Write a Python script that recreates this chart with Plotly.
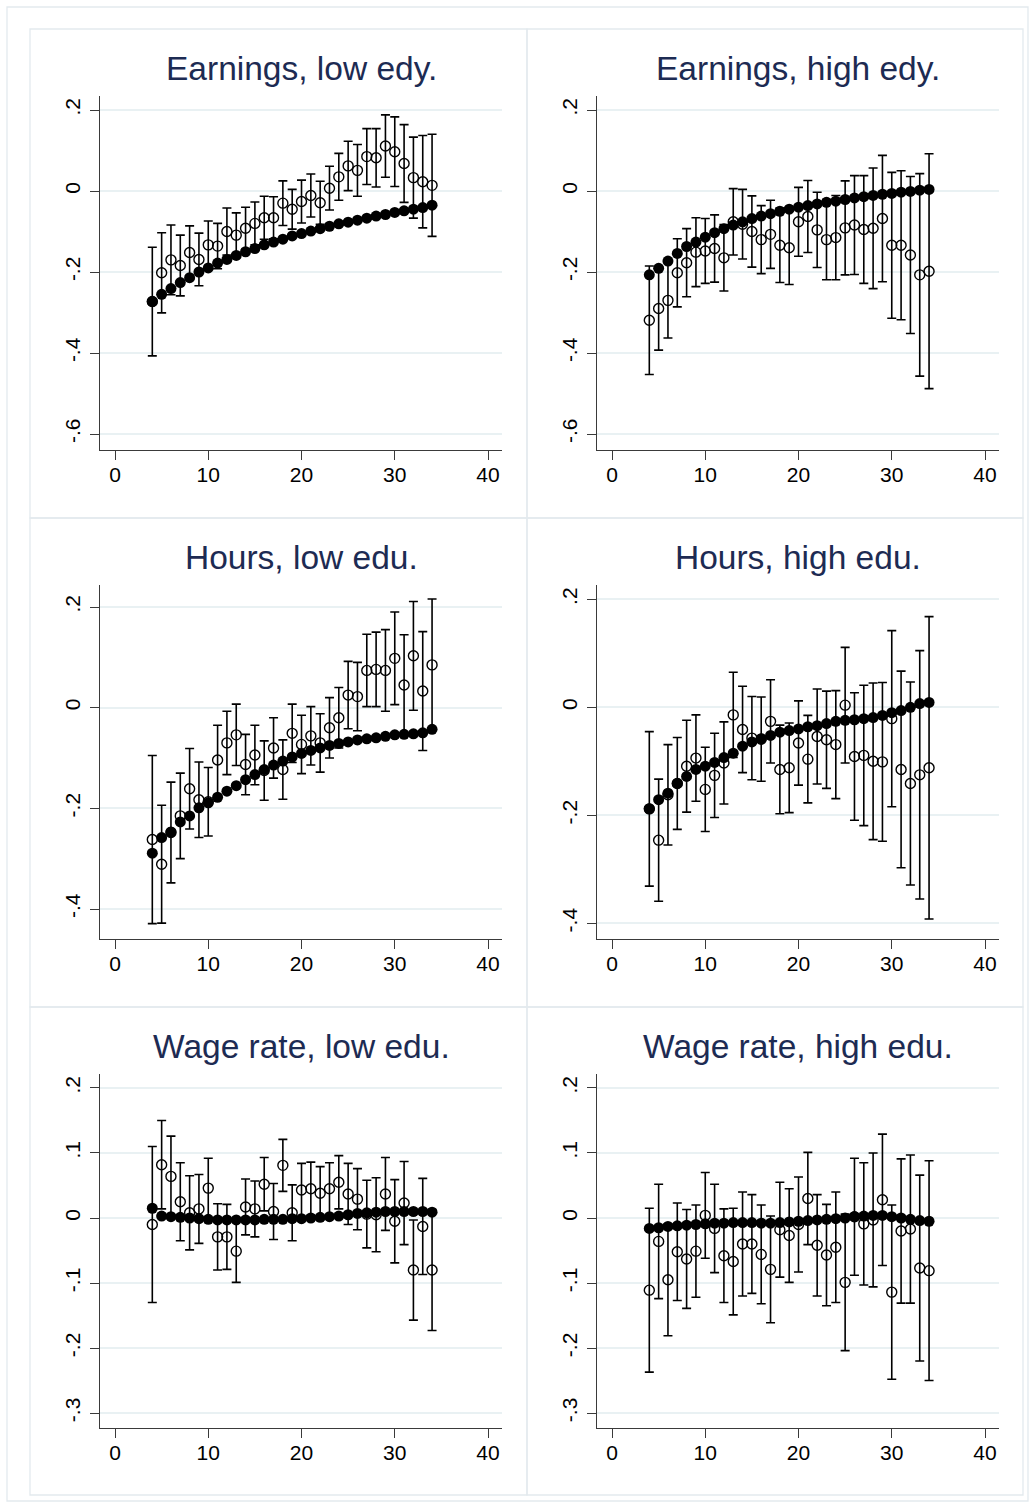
import plotly.graph_objects as go

W, H = 1035, 1508

ages = list(range(4, 35))

titles = ["Earnings, low edy.", "Earnings, high edy.",
          "Hours, low edu.", "Hours, high edu.",
          "Wage rate, low edu.", "Wage rate, high edu."]

# model (filled markers)
earn_low_model = [-0.273,-0.255,-0.241,-0.226,-0.214,-0.200,-0.190,-0.178,-0.169,-0.159,-0.150,-0.142,-0.133,-0.126,-0.119,-0.111,-0.105,-0.099,-0.093,-0.087,-0.081,-0.077,-0.072,-0.067,-0.062,-0.058,-0.053,-0.049,-0.045,-0.041,-0.035]
earn_high_model = [-0.207,-0.191,-0.173,-0.154,-0.137,-0.126,-0.114,-0.103,-0.093,-0.084,-0.076,-0.068,-0.062,-0.056,-0.050,-0.045,-0.040,-0.036,-0.032,-0.028,-0.025,-0.021,-0.017,-0.014,-0.011,-0.008,-0.006,-0.003,-0.001,0.002,0.004]
hours_low_model = [-0.289,-0.258,-0.247,-0.227,-0.215,-0.199,-0.189,-0.178,-0.166,-0.155,-0.143,-0.133,-0.123,-0.114,-0.106,-0.098,-0.091,-0.085,-0.080,-0.075,-0.071,-0.068,-0.064,-0.062,-0.060,-0.057,-0.054,-0.053,-0.052,-0.050,-0.043]
hours_high_model = [-0.188,-0.171,-0.159,-0.141,-0.128,-0.115,-0.109,-0.102,-0.093,-0.085,-0.072,-0.064,-0.058,-0.052,-0.046,-0.043,-0.040,-0.036,-0.034,-0.030,-0.026,-0.024,-0.023,-0.021,-0.019,-0.015,-0.010,-0.006,0.000,0.007,0.009]
wage_low_model = [0.015,0.003,0.002,0.001,0.000,-0.001,-0.002,-0.003,-0.003,-0.003,-0.003,-0.003,-0.002,-0.002,-0.002,-0.001,-0.001,0.000,0.001,0.002,0.003,0.005,0.007,0.008,0.009,0.010,0.010,0.010,0.010,0.010,0.009]
wage_high_model = [-0.016,-0.015,-0.013,-0.012,-0.011,-0.010,-0.009,-0.008,-0.008,-0.007,-0.007,-0.007,-0.008,-0.008,-0.007,-0.006,-0.005,-0.004,-0.003,-0.002,-0.001,0.000,0.002,0.003,0.004,0.004,0.002,0.000,-0.002,-0.004,-0.005]

# data (hollow markers) with CI half-widths
earn_low_data = [-0.273,-0.202,-0.170,-0.184,-0.152,-0.169,-0.133,-0.136,-0.100,-0.109,-0.092,-0.080,-0.066,-0.066,-0.030,-0.045,-0.026,-0.011,-0.029,0.007,0.035,0.062,0.051,0.085,0.082,0.111,0.097,0.068,0.033,0.023,0.014]
earn_low_ci = [0.134,0.099,0.086,0.075,0.066,0.065,0.059,0.056,0.058,0.055,0.052,0.053,0.053,0.052,0.055,0.049,0.053,0.053,0.053,0.054,0.058,0.061,0.064,0.069,0.072,0.077,0.086,0.096,0.100,0.114,0.126]
earn_high_data = [-0.319,-0.290,-0.270,-0.202,-0.177,-0.151,-0.148,-0.142,-0.165,-0.076,-0.082,-0.100,-0.120,-0.107,-0.134,-0.140,-0.076,-0.063,-0.096,-0.120,-0.115,-0.091,-0.084,-0.095,-0.092,-0.068,-0.134,-0.134,-0.158,-0.207,-0.198]
earn_high_ci = [0.134,0.103,0.093,0.084,0.084,0.085,0.080,0.083,0.082,0.082,0.086,0.088,0.084,0.084,0.092,0.091,0.085,0.089,0.093,0.099,0.104,0.116,0.122,0.133,0.149,0.156,0.180,0.184,0.194,0.250,0.290]
hours_low_data = [-0.262,-0.311,-0.248,-0.215,-0.161,-0.183,-0.187,-0.104,-0.070,-0.054,-0.113,-0.094,-0.125,-0.080,-0.123,-0.051,-0.073,-0.056,-0.070,-0.040,-0.020,0.025,0.022,0.074,0.076,0.074,0.098,0.045,0.103,0.033,0.085]
hours_low_ci = [0.167,0.117,0.100,0.085,0.080,0.075,0.068,0.069,0.063,0.061,0.060,0.059,0.059,0.060,0.059,0.058,0.058,0.058,0.058,0.060,0.060,0.067,0.068,0.072,0.074,0.081,0.092,0.100,0.108,0.118,0.131]
hours_high_data = [-0.188,-0.246,-0.162,-0.141,-0.109,-0.094,-0.152,-0.126,-0.103,-0.014,-0.041,-0.057,-0.059,-0.026,-0.115,-0.112,-0.066,-0.096,-0.054,-0.060,-0.069,0.004,-0.091,-0.089,-0.100,-0.101,-0.021,-0.115,-0.141,-0.125,-0.112]
hours_high_ci = [0.143,0.113,0.093,0.085,0.085,0.080,0.078,0.078,0.076,0.079,0.080,0.077,0.078,0.077,0.082,0.083,0.078,0.081,0.088,0.090,0.100,0.107,0.118,0.130,0.145,0.147,0.163,0.182,0.188,0.230,0.280]
wage_low_data = [-0.010,0.082,0.064,0.025,0.008,0.014,0.046,-0.029,-0.029,-0.051,0.017,0.014,0.052,0.010,0.081,0.008,0.043,0.045,0.038,0.045,0.055,0.037,0.029,0.006,0.005,0.037,-0.005,0.023,-0.080,-0.013,-0.080]
wage_low_ci = [0.120,0.068,0.062,0.060,0.057,0.053,0.046,0.051,0.050,0.048,0.043,0.043,0.041,0.043,0.040,0.043,0.041,0.041,0.041,0.040,0.041,0.047,0.047,0.052,0.057,0.056,0.064,0.064,0.077,0.074,0.093]
wage_high_data = [-0.111,-0.036,-0.095,-0.052,-0.063,-0.051,0.004,-0.016,-0.058,-0.067,-0.040,-0.040,-0.056,-0.079,-0.018,-0.027,-0.010,0.030,-0.042,-0.057,-0.045,-0.099,0.002,-0.009,-0.003,0.028,-0.114,-0.020,-0.017,-0.077,-0.081]
wage_high_ci = [0.126,0.088,0.086,0.075,0.076,0.071,0.066,0.068,0.072,0.082,0.080,0.076,0.076,0.082,0.073,0.072,0.073,0.071,0.078,0.078,0.085,0.105,0.090,0.094,0.103,0.101,0.134,0.111,0.114,0.143,0.169]

x_ticks = [0, 10, 20, 30, 40]
y_ticks_earn = [0.2, 0, -0.2, -0.4, -0.6]
y_ticks_earn_text = [".2", "0", "-.2", "-.4", "-.6"]
y_ticks_hours = [0.2, 0, -0.2, -0.4]
y_ticks_hours_text = [".2", "0", "-.2", "-.4"]
y_ticks_wage = [0.2, 0.1, 0, -0.1, -0.2, -0.3]
y_ticks_wage_text = [".2", ".1", "0", "-.1", "-.2", "-.3"]

panels = [
    (earn_low_model, earn_low_data, earn_low_ci, y_ticks_earn, y_ticks_earn_text, [-0.6395, 0.2346]),
    (earn_high_model, earn_high_data, earn_high_ci, y_ticks_earn, y_ticks_earn_text, [-0.6395, 0.2346]),
    (hours_low_model, hours_low_data, hours_low_ci, y_ticks_hours, y_ticks_hours_text, [-0.4596, 0.2437]),
    (hours_high_model, hours_high_data, hours_high_ci, y_ticks_hours, y_ticks_hours_text, [-0.429, 0.2265]),
    (wage_low_model, wage_low_data, wage_low_ci, y_ticks_wage, y_ticks_wage_text, [-0.323, 0.2215]),
    (wage_high_model, wage_high_data, wage_high_ci, y_ticks_wage, y_ticks_wage_text, [-0.323, 0.2215]),
]

col_px = [(100, 502), (597, 999)]
row_px = [(96, 450), (585, 939), (1074, 1428)]

FONT = "Liberation Sans, Arial, sans-serif"
AX = "#3a3a3a"
GRID = "#e9f1f3"
BORDER = "#e3eaee"
TITLE_C = "#1d2b53"

fig = go.Figure()
layout = dict(width=W, height=H, margin=dict(l=0, r=0, t=0, b=0),
              paper_bgcolor="white", plot_bgcolor="white", showlegend=False,
              font=dict(family=FONT, color="black"))
annotations = []
shapes = []

for i, (model, data, ci, yt, ytt, yr) in enumerate(panels):
    r, c = divmod(i, 2)
    n = i + 1
    xa = "x" if n == 1 else f"x{n}"
    ya = "y" if n == 1 else f"y{n}"
    x0, x1 = col_px[c]
    y0, y1 = row_px[r]
    fig.add_trace(go.Scatter(x=ages, y=model, mode="markers", xaxis=xa, yaxis=ya,
                             marker=dict(symbol="circle", size=11, color="black",
                                         line=dict(width=0)), cliponaxis=False))
    fig.add_trace(go.Scatter(x=ages, y=data, mode="markers", xaxis=xa, yaxis=ya,
                             error_y=dict(type="data", array=ci, symmetric=True,
                                          color="black", thickness=1.6, width=4.5),
                             marker=dict(symbol="circle-open", size=10, color="black",
                                         line=dict(width=1.4, color="black")),
                             cliponaxis=False))
    layout["xaxis" if n == 1 else f"xaxis{n}"] = dict(
        domain=[x0 / W, x1 / W], anchor=ya, range=[-1.61, 41.5],
        tickvals=x_ticks, ticktext=[str(v) for v in x_ticks],
        showgrid=False, zeroline=False, showline=True, linecolor=AX, linewidth=1.3,
        ticks="outside", ticklen=9, tickwidth=1.3, tickcolor=AX, ticklabelstandoff=-3,
        tickfont=dict(size=21, family=FONT, color="black"), fixedrange=True)
    layout["yaxis" if n == 1 else f"yaxis{n}"] = dict(
        domain=[1 - y1 / H, 1 - y0 / H], anchor=xa, range=yr,
        tickvals=yt, ticktext=ytt, tickangle=-90,
        showgrid=True, gridcolor=GRID, gridwidth=1.6, zeroline=False,
        showline=True, linecolor=AX, linewidth=1.3, ticklabelstandoff=1,
        ticks="outside", ticklen=9, tickwidth=1.3, tickcolor=AX,
        tickfont=dict(size=21, family=FONT, color="black"), fixedrange=True)
    annotations.append(dict(text=titles[i], xref="paper", yref="paper",
                            x=(x0 + x1) / 2 / W, y=1 - (y0 - 27.5) / H,
                            xanchor="center", yanchor="middle", showarrow=False,
                            font=dict(size=33.5, family=FONT, color=TITLE_C)))

# panel frames
for bx0, bx1 in [(30, 527), (527, 1023)]:
    for by0, by1 in [(29, 518), (518, 1007), (1007, 1495)]:
        shapes.append(dict(type="rect", xref="paper", yref="paper",
                           x0=bx0 / W, x1=bx1 / W, y0=1 - by1 / H, y1=1 - by0 / H,
                           line=dict(color=BORDER, width=1.3), layer="below"))
shapes.append(dict(type="rect", xref="paper", yref="paper",
                   x0=7 / W, x1=1028 / W, y0=1 - 1501 / H, y1=1 - 7 / H,
                   line=dict(color=BORDER, width=1.3), layer="below"))

layout["annotations"] = annotations
layout["shapes"] = shapes
fig.update_layout(**layout)
fig.write_html("out.html", config={"displayModeBar": False},
               post_script="document.body.style.margin='0';document.body.style.padding='0';")
